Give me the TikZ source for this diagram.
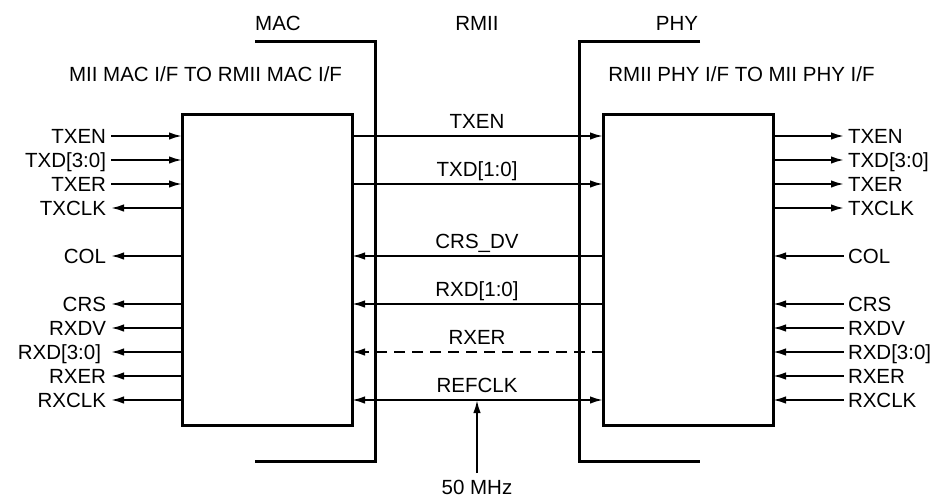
\documentclass[tikz,border=0pt]{standalone}
\usepackage{fontspec}
\setmainfont{Liberation Sans}
\usetikzlibrary{arrows.meta}
\begin{document}
\begin{tikzpicture}[x=1pt,y=-1pt,
  blk/.style={draw, line width=3pt, inner sep=0pt, outer sep=0pt, minimum height=311pt},
  brk/.style={line width=3pt},
  sig/.style={line width=2pt},
  fwd/.style={-{Latex[length=13pt,width=7.5pt]}},
  bwd/.style={{Latex[length=13pt,width=7.5pt]}-},
  both/.style={{Latex[length=13pt,width=7.5pt]}-{Latex[length=13pt,width=7.5pt]}},
  dsh/.style={dash pattern=on 11pt off 7pt},
  lbl/.style={font=\fontsize{20.5}{24}\selectfont, inner sep=0pt, outer sep=0pt},
]
\useasboundingbox (0,0) rectangle (935,499);

% blocks
\node[blk, minimum width=170pt] (mac) at (267,269.5) {};
\node[blk, minimum width=170pt] (phy) at (688,269.5) {};

% brackets
\draw[brk] (255,41) -- (375,41) -- (375,461) -- (255,461);
\draw[brk] (700,41) -- (579,41) -- (579,461) -- (700,461);

% titles
\node[lbl, anchor=base] (tmac) at (278,30) {MAC};
\node[lbl, anchor=base] (trmii) at (477,30) {RMII};
\node[lbl, anchor=base] (tphy) at (677,30) {PHY};
\node[lbl, anchor=base] (tl) at (205.5,81) {MII MAC I/F TO RMII MAC I/F};
\node[lbl, anchor=base] (tr) at (741.5,81) {RMII PHY I/F TO MII PHY I/F};

% left MII signals
\foreach \t/\y/\s/\x in {TXEN/136/fwd/106, TXD[3:0]/160/fwd/106, TXER/184/fwd/106, TXCLK/208/bwd/106,
  COL/256/bwd/106, CRS/304/bwd/106, RXDV/328/bwd/106, RXD[3:0]/352/bwd/101, RXER/376/bwd/106, RXCLK/400/bwd/106}{
  \coordinate (ml\y) at (111,\y);
  \node[lbl, anchor=base east] (mlt\y) at (\x,\y+7) {\t};
  \draw[sig,\s] (ml\y) -- (mac.west |- ml\y);
}

% right MII signals
\foreach \t/\y/\s in {TXEN/136/fwd, TXD[3:0]/160/fwd, TXER/184/fwd, TXCLK/208/fwd,
  COL/256/bwd, CRS/304/bwd, RXDV/328/bwd, RXD[3:0]/352/bwd, RXER/376/bwd, RXCLK/400/bwd}{
  \coordinate (mr\y) at (844,\y);
  \node[lbl, anchor=base west] (mrt\y) at (848,\y+7) {\t};
  \draw[sig,\s] (phy.east |- mr\y) -- (mr\y);
}

% RMII signals
\foreach \t/\y/\s in {TXEN/136/fwd, TXD[1:0]/184/fwd, CRS\_DV/256/bwd,
  RXD[1:0]/304/bwd, REFCLK/400/both}{
  \coordinate (c\y) at (477,\y);
  \node[lbl, anchor=base] (ct\y) at (477,\y-8) {\t};
  \draw[sig,\s] (mac.east |- c\y) -- (phy.west |- c\y);
}
\coordinate (c352) at (477,352);
\node[lbl, anchor=base] (ct352) at (477,344) {RXER};
\draw[sig,fwd,dsh] (phy.west |- c352) -- (mac.east |- c352);

% 50 MHz clock source
\coordinate (clk) at (477,473);
\node[lbl, anchor=base] (mhz) at (477,494.5) {50 MHz};
\draw[sig,fwd] (clk) -- (c400);
\end{tikzpicture}
\end{document}
